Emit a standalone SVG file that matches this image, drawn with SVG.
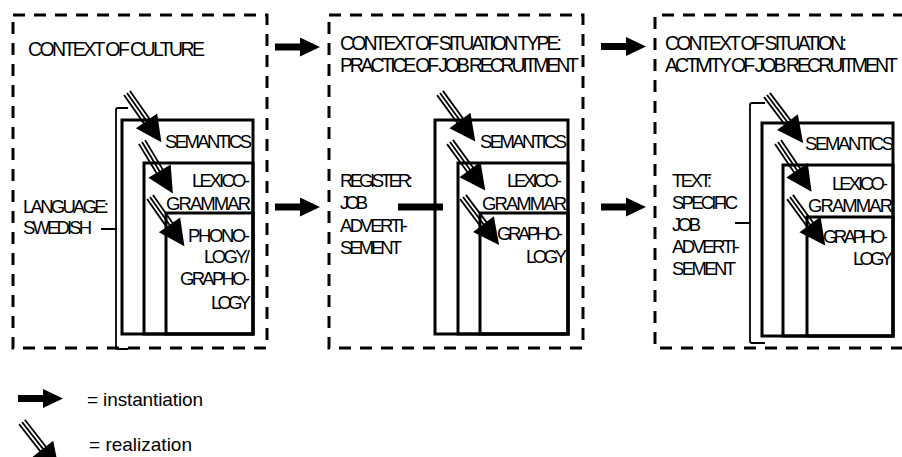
<svg xmlns="http://www.w3.org/2000/svg" xmlns:xlink="http://www.w3.org/1999/xlink" width="902" height="457" viewBox="0 0 902 457">
<style>
.dash{fill:none;stroke:#000;stroke-width:3;stroke-dasharray:12 9}
.box{fill:none;stroke:#000;stroke-width:3}
.br{fill:none;stroke:#000;stroke-width:1.8}
.t{font-family:"Liberation Sans",Arial,sans-serif;font-size:19.5px;fill:#000}
.s{font-family:"Liberation Sans",Arial,sans-serif;font-size:18.5px;fill:#000}
.l{font-family:"Liberation Sans",Arial,sans-serif;font-size:19px;fill:#000}
</style>
<defs>
<g id="inst"><rect x="0" y="-3.5" width="27" height="7" fill="#000"/><polygon points="25,-9.5 45,0 25,9.5" fill="#000"/></g>
<g id="real"><g stroke="#000" stroke-width="1.8"><line x1="0" y1="-3.6" x2="37" y2="-3.6"/><line x1="0" y1="0" x2="37" y2="0"/><line x1="0" y1="3.6" x2="37" y2="3.6"/></g><polygon points="34,-13 60,0 34,13" fill="#000"/></g>
</defs>
<rect width="902" height="457" fill="#fff"/>

<g id="culture">
<rect class="dash" x="13" y="15" width="254" height="333"/>
<text class="t" x="28" y="56" textLength="177">CONTEXT OF CULTURE</text>
<path class="br" d="M128,108 H118 Q116,108 116,110 V347 Q116,349 118,349 H128 M101,229 H116"/>
<text class="s" x="23" y="213" textLength="86">LANGUAGE:</text>
<text class="s" x="23" y="234" textLength="69">SWEDISH</text>
<rect class="box" x="122" y="120" width="131" height="214"/>
<rect class="box" x="144" y="163" width="109" height="171"/>
<rect class="box" x="166" y="213" width="87" height="121"/>
<text class="s" x="165" y="148" textLength="87">SEMANTICS</text>
<text class="s" x="192" y="187" textLength="58">LEXICO-</text>
<text class="s" x="166" y="210" textLength="85">GRAMMAR</text>
<text class="s" x="188" y="242" textLength="62">PHONO-</text>
<text class="s" x="204" y="263" textLength="46">LOGY/</text>
<text class="s" x="180" y="285" textLength="70">GRAPHO-</text>
<text class="s" x="211" y="309" textLength="40">LOGY</text>
</g>

<g id="situation-type">
<rect class="dash" x="329" y="15" width="254" height="333"/>
<text class="t" x="340" y="50" textLength="222">CONTEXT OF SITUATION TYPE:</text>
<text class="t" x="340" y="72" textLength="239">PRACTICE OF JOB RECRUITMENT</text>
<text class="s" x="340" y="187" textLength="73">REGISTER:</text>
<text class="s" x="340" y="209" textLength="28">JOB</text>
<text class="s" x="340" y="232" textLength="68">ADVERTI-</text>
<text class="s" x="340" y="254" textLength="62">SEMENT</text>
<rect class="box" x="435" y="120" width="133" height="214"/>
<rect class="box" x="458" y="163" width="110" height="171"/>
<rect class="box" x="480" y="213" width="88" height="121"/>
<text class="s" x="480" y="148" textLength="87">SEMANTICS</text>
<text class="s" x="507" y="187" textLength="55">LEXICO-</text>
<text class="s" x="482" y="210" textLength="85">GRAMMAR</text>
<text class="s" x="497" y="240" textLength="66">GRAPHO-</text>
<text class="s" x="526" y="263" textLength="41">LOGY</text>
</g>

<g id="situation">
<path class="dash" d="M905,15 H655 V348 H905"/>
<text class="t" x="665" y="50" textLength="182">CONTEXT OF SITUATION:</text>
<text class="t" x="665" y="72" textLength="233">ACTIVITY OF JOB RECRUITMENT</text>
<path class="br" d="M765,103 H752 Q750,103 750,105 V341 Q750,343 752,343 H765 M735,223 H750"/>
<text class="s" x="672" y="187" textLength="40">TEXT:</text>
<text class="s" x="672" y="209" textLength="66">SPECIFIC</text>
<text class="s" x="672" y="231" textLength="29">JOB</text>
<text class="s" x="672" y="253" textLength="68">ADVERTI-</text>
<text class="s" x="672" y="275" textLength="64">SEMENT</text>
<rect class="box" x="762" y="123" width="131" height="213"/>
<rect class="box" x="783" y="165" width="110" height="171"/>
<rect class="box" x="807" y="217" width="86" height="119"/>
<text class="s" x="805" y="150" textLength="89">SEMANTICS</text>
<text class="s" x="832" y="190" textLength="56">LEXICO-</text>
<text class="s" x="808" y="212" textLength="85">GRAMMAR</text>
<text class="s" x="823" y="243" textLength="65">GRAPHO-</text>
<text class="s" x="853" y="265" textLength="40">LOGY</text>
</g>

<g id="connectors">
<use xlink:href="#inst" transform="translate(275,47)"/>
<use xlink:href="#inst" transform="translate(275,207)"/>
<use xlink:href="#inst" transform="translate(601,46.5)"/>
<use xlink:href="#inst" transform="translate(601,207)"/>
<line x1="398" y1="207" x2="443" y2="207" stroke="#000" stroke-width="7"/>
<use xlink:href="#real" transform="translate(127,93) rotate(55)"/>
<use xlink:href="#real" transform="translate(142,142) rotate(59)"/>
<use xlink:href="#real" transform="translate(150,197) rotate(55)"/>
<use xlink:href="#real" transform="translate(440,93) rotate(54)"/>
<use xlink:href="#real" transform="translate(450,142) rotate(54)"/>
<use xlink:href="#real" transform="translate(463,197) rotate(53)"/>
<use xlink:href="#real" transform="translate(767,95) rotate(53)"/>
<use xlink:href="#real" transform="translate(778,142) rotate(56)"/>
<use xlink:href="#real" transform="translate(790,197) rotate(54)"/>
</g>

<g id="legend">
<use xlink:href="#inst" transform="translate(18,398.5)"/>
<text class="l" x="87" y="406" textLength="116">= instantiation</text>
<use xlink:href="#real" transform="translate(22,422) rotate(52)"/>
<text class="l" x="89" y="451" textLength="103">= realization</text>
</g>
</svg>
